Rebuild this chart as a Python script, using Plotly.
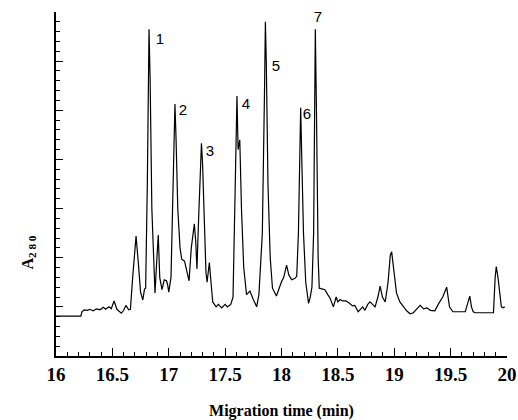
import plotly.graph_objects as go

# Migration time (min) and absorbance (arbitrary units, A280)
time_min = [16.00, 16.22, 16.23, 16.25, 16.28, 16.30, 16.33, 16.36, 16.39, 16.42, 16.44, 16.47, 16.49,
            16.515, 16.54, 16.56, 16.58, 16.60, 16.62, 16.645, 16.66, 16.68, 16.71, 16.73, 16.75, 16.77,
            16.785, 16.795, 16.81, 16.825, 16.835, 16.85, 16.865, 16.878, 16.895, 16.907, 16.92, 16.94,
            16.96, 16.98, 16.99, 17.00, 17.02, 17.04, 17.055, 17.065, 17.08, 17.10, 17.115, 17.14, 17.16,
            17.18, 17.20, 17.227, 17.24, 17.25, 17.265, 17.29, 17.30, 17.315, 17.33, 17.34, 17.36, 17.39,
            17.42, 17.44, 17.47, 17.50, 17.52, 17.55, 17.57, 17.59, 17.605, 17.615, 17.63, 17.645, 17.665,
            17.69, 17.72, 17.75, 17.78, 17.80, 17.83, 17.85, 17.857, 17.865, 17.88, 17.90, 17.92, 17.955,
            17.98, 18.00, 18.02, 18.045, 18.065, 18.09, 18.12, 18.135, 18.15, 18.17, 18.18, 18.195, 18.215,
            18.24, 18.255, 18.27, 18.285, 18.30, 18.31, 18.325, 18.335, 18.36, 18.385, 18.41, 18.43, 18.46,
            18.475, 18.485, 18.50, 18.52, 18.54, 18.57, 18.60, 18.63, 18.65, 18.68, 18.70, 18.72, 18.74,
            18.765, 18.785, 18.81, 18.83, 18.855, 18.875, 18.895, 18.92, 18.945, 18.965, 18.977, 18.995,
            19.02, 19.05, 19.08, 19.11, 19.14, 19.17, 19.20, 19.23, 19.26, 19.29, 19.32, 19.36, 19.39,
            19.41, 19.43, 19.465, 19.49, 19.52, 19.63, 19.655, 19.67, 19.685, 19.70, 19.72, 19.88, 19.895,
            19.905, 19.92, 19.935, 19.95, 19.965, 19.98]
absorbance = [0.81, 0.81, 0.90, 0.94, 0.93, 0.95, 0.92, 0.96, 0.94, 0.99, 0.95, 1.00, 0.96,
              1.12, 0.95, 0.90, 0.87, 0.93, 1.03, 0.94, 0.95, 1.6, 2.44, 1.9, 1.3, 1.14,
              1.36, 1.38, 3.5, 6.65, 5.6, 3.0, 1.8, 1.28, 2.0, 2.46, 1.6, 1.35,
              1.55, 1.53, 1.45, 1.3, 1.6, 3.5, 5.13, 4.4, 3.0, 2.2, 1.97, 1.93, 1.75,
              1.53, 2.2, 2.69, 2.3, 1.77, 2.8, 4.33, 3.9, 2.5, 1.7, 1.5, 1.9, 1.1,
              1.0, 1.05, 0.98, 1.05, 1.0, 1.05, 1.2, 3.5, 5.29, 4.2, 4.4, 3.0, 1.8,
              1.25, 1.32, 1.15, 1.0, 1.26, 2.5, 5.5, 6.80, 6.0, 3.5, 2.0, 1.38, 1.22,
              1.4, 1.51, 1.6, 1.85, 1.65, 1.55, 1.58, 1.62, 2.5, 5.05, 4.0, 2.5, 1.5,
              1.07, 1.2, 1.4, 2.5, 6.65, 5.0, 2.0, 1.38, 1.36, 1.35, 1.25, 1.18, 1.0,
              1.15, 1.2, 1.1, 1.15, 1.12, 1.12, 1.08, 1.02, 1.03, 0.9, 0.95, 1.0, 0.93,
              1.05, 1.1, 1.05, 1.0, 1.2, 1.42, 1.2, 1.1, 1.5, 2.05, 2.12, 1.8,
              1.28, 1.1, 1.0, 0.92, 0.86, 0.88, 0.96, 1.03, 0.96, 0.98, 0.93, 0.92, 1.05,
              1.12, 1.2, 1.40, 1.0, 0.9, 0.9, 1.1, 1.22, 1.0, 0.9, 0.88, 0.88, 1.6,
              1.82, 1.6, 1.3, 1.0, 0.98, 1.0]

peak_labels = ["1", "2", "3", "4", "5", "6", "7"]
peak_label_x = [16.922, 17.126, 17.366, 17.685, 17.951, 18.226, 18.324]
peak_label_y = [6.43, 4.99, 4.15, 5.11, 5.88, 4.90, 6.88]

x_ticks = [16, 16.5, 17, 17.5, 18, 18.5, 19, 19.5, 20]
x_tick_text = ["16", "16.5", "17", "17.5", "18", "18.5", "19", "19.5", "20"]

fig = go.Figure()
fig.add_trace(go.Scatter(x=time_min, y=absorbance, mode="lines",
                         line=dict(color="black", width=1.2), showlegend=False,
                         hoverinfo="skip"))
fig.add_trace(go.Scatter(x=peak_label_x, y=peak_label_y, mode="text", text=peak_labels,
                         textfont=dict(family="Liberation Sans", size=15, color="black"),
                         showlegend=False, hoverinfo="skip"))

fig.update_layout(
    width=518, height=420,
    margin=dict(l=56, r=11, t=12, b=64, autoexpand=False),
    paper_bgcolor="white", plot_bgcolor="white",
    xaxis=dict(range=[16, 20], tickvals=x_ticks, ticktext=x_tick_text, automargin=False,
               ticks="inside", ticklen=8, tickwidth=1.3, tickcolor="black",
               minor=dict(dtick=0.1, ticks="inside", ticklen=4, tickwidth=1.2, tickcolor="black"),
               showgrid=False, zeroline=False, showline=True, linecolor="black", linewidth=1.5,
               tickfont=dict(family="Liberation Serif", size=19, color="black", weight="bold"),
               title=dict(text="<b>Migration time (min)</b>", standoff=22,
                          font=dict(family="Liberation Serif", size=16, color="black"))),
    yaxis=dict(range=[0, 7], dtick=1, showticklabels=False, automargin=False,
               ticks="inside", ticklen=7, tickwidth=1.3, tickcolor="black",
               minor=dict(dtick=0.2, ticks="inside", ticklen=4, tickwidth=1.2, tickcolor="black"),
               showgrid=False, zeroline=False, showline=True, linecolor="black", linewidth=1.5),
)

fig.add_annotation(text="<b>A<sub>2 8 0</sub></b>", xref="paper", yref="y",
                   x=-0.086, y=2.1, showarrow=False, textangle=-90,
                   font=dict(family="Liberation Serif", size=16, color="black"))

fig.write_html("out.html", config={"displayModeBar": False},
               post_script="document.body.style.margin='0';document.body.style.overflow='hidden';")
